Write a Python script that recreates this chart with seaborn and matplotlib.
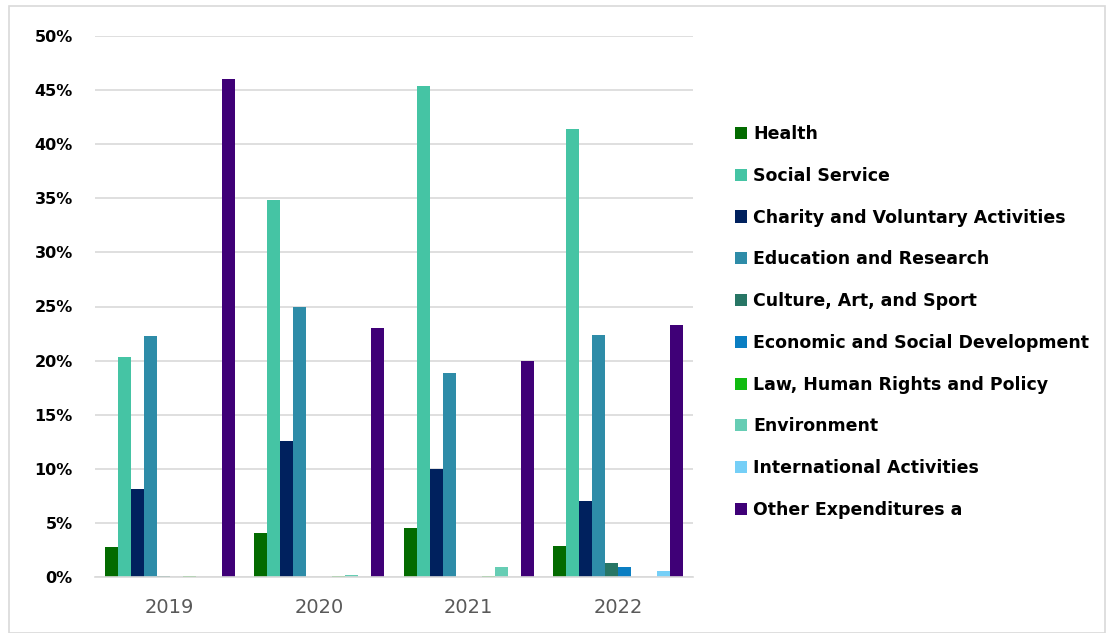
import matplotlib
matplotlib.use("Agg")
import matplotlib.pyplot as plt
import matplotlib.patches as mpatches
import seaborn as sns
import pandas as pd
import numpy as np

years = ["2019", "2020", "2021", "2022"]
categories = [
    "Health", "Social Service", "Charity and Voluntary Activities",
    "Education and Research", "Culture, Art, and Sport",
    "Economic and Social Development", "Law, Human Rights and Policy",
    "Environment", "International Activities", "Other Expenditures a",
]
health = [2.8, 4.1, 4.5, 2.9]
social_service = [20.3, 34.8, 45.4, 41.4]
charity = [8.1, 12.6, 10.0, 7.0]
education = [22.3, 25.0, 18.9, 22.4]
culture = [0.1, 0.0, 0.0, 1.3]
economic = [0.0, 0.0, 0.0, 0.9]
law = [0.1, 0.1, 0.1, 0.0]
environment = [0.0, 0.2, 0.9, 0.0]
international = [0.0, 0.0, 0.0, 0.6]
other = [46.0, 23.0, 20.0, 23.3]
colors = ["#036B00", "#45C4A4", "#00215E", "#2E8CA8", "#277665",
          "#0A7EC2", "#11BB11", "#66CDB4", "#75CFF7", "#3F0077"]

series = [health, social_service, charity, education, culture, economic,
          law, environment, international, other]
rows = []
for cat, vals in zip(categories, series):
    for y, v in zip(years, vals):
        rows.append({"Year": y, "Category": cat, "Value": v / 100})
df = pd.DataFrame(rows)

sns.set_theme(style="white")
plt.rcParams['font.family'] = ['DejaVu Sans']

fig = plt.figure(figsize=(11.06, 6.33), dpi=100)
ax = fig.add_axes([95 / 1106, 1 - 577 / 633, (693 - 95) / 1106, (577 - 36) / 633])

sns.barplot(data=df, x="Year", y="Value", hue="Category", hue_order=categories,
            order=years, palette=colors, width=0.87, saturation=1,
            edgecolor="none", linewidth=0, ax=ax, legend=False)

ax.set_ylim(0, 0.5)
ax.set_xlim(-0.5, 3.5)
ax.set_yticks(np.arange(0, 0.51, 0.05))
ax.set_yticklabels([f"{int(round(t * 100))}%" for t in np.arange(0, 0.51, 0.05)],
                   fontsize=11.5, fontweight="bold", color="black")
ax.tick_params(axis="y", length=0, pad=16)
ax.tick_params(axis="x", length=0, pad=15, labelsize=14, labelcolor="#595959")
ax.grid(axis="y", color="#D9D9D9", linewidth=1.2)
ax.set_axisbelow(True)
for s in ["top", "right", "left"]:
    ax.spines[s].set_visible(False)
ax.spines["bottom"].set_color("#D9D9D9")
ax.spines["bottom"].set_linewidth(1.2)
ax.set_xlabel("")
ax.set_ylabel("")

handles = [mpatches.Patch(facecolor=c, edgecolor="none", label=l)
           for c, l in zip(colors, categories)]
leg = fig.legend(handles=handles, loc="upper left",
                 bbox_to_anchor=(728 / 1106, 1 - 118 / 633),
                 frameon=False, prop={"weight": "bold", "size": 12.5},
                 handlelength=0.7, handleheight=0.7, handletextpad=0.35,
                 labelspacing=1.37, borderaxespad=0)
for t in leg.get_texts():
    t.set_color("black")

fig.patches.append(mpatches.Rectangle((9 / 1106, 0), 1 - 10 / 1106, 1 - 6 / 633,
                                      transform=fig.transFigure, fill=False,
                                      edgecolor="#D9D9D9", linewidth=1.2))

fig.savefig("out.png", dpi=100)
